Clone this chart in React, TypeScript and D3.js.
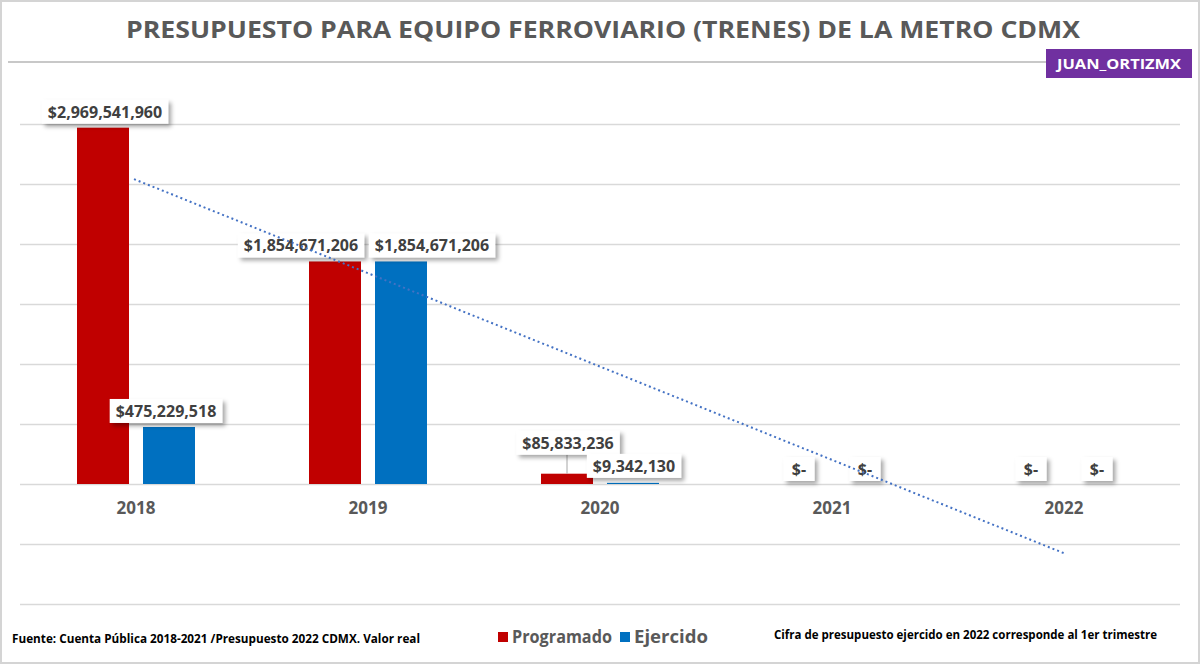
import React, { useEffect, useRef } from "react";
import * as d3 from "d3";

const years = ["2018", "2019", "2020", "2021", "2022"];
const programado = [2969541960, 1854671206, 85833236, 0, 0];
const ejercido = [475229518, 1854671206, 9342130, 0, 0];
const yTicks = [-1e9, -5e8, 0, 5e8, 1e9, 1.5e9, 2e9, 2.5e9, 3e9];
const seriesNames = ["Programado", "Ejercido"];
const seriesColors = ["#C00000", "#0070C0"];

const W = 1200;
const H = 664;

// label layout tweaks (style, not data)
const labelTweaks: Record<string, { dx: number; dy: number; leader?: boolean }> = {
  "0-0": { dx: 2, dy: -4 },
  "1-0": { dx: -3, dy: -4 },
  "0-1": { dx: -34, dy: -4 },
  "1-1": { dx: 31, dy: -4 },
  "0-2": { dx: 1, dy: -19, leader: true },
  "1-2": { dx: 1, dy: -5 },
};

function fmt(v: number) {
  if (v === 0) return "$-";
  return "$" + d3.format(",")(v);
}

export default function App() {
  const ref = useRef<SVGSVGElement>(null);
  useEffect(() => {
    const svg = d3.select(ref.current);
    svg.selectAll("*").remove();

    const defs = svg.append("defs");
    const f = defs.append("filter").attr("id", "sh").attr("x", "-20%").attr("y", "-30%").attr("width", "150%").attr("height", "180%");
    f.append("feDropShadow").attr("dx", 3).attr("dy", 3).attr("stdDeviation", 2).attr("flood-color", "#000").attr("flood-opacity", 0.35);

    svg.append("rect").attr("x", 0).attr("y", 0).attr("width", W).attr("height", H).attr("fill", "#fff");
    svg.append("rect").attr("x", 1).attr("y", 1).attr("width", W - 2).attr("height", H - 2).attr("fill", "none").attr("stroke", "#d4d4d4").attr("stroke-width", 2);

    // title
    svg.append("text").attr("x", 603).attr("y", 38).attr("text-anchor", "middle")
      .attr("font-family", "'Open Sans', sans-serif").attr("font-weight", 700).attr("font-size", 24)
      .attr("fill", "#595959").attr("textLength", 954).attr("lengthAdjust", "spacingAndGlyphs")
      .text("PRESUPUESTO PARA EQUIPO FERROVIARIO (TRENES) DE LA METRO CDMX");
    svg.append("line").attr("x1", 8).attr("x2", 1046).attr("y1", 62).attr("y2", 62).attr("stroke", "#c8c8c8").attr("stroke-width", 2);
    svg.append("rect").attr("x", 1046).attr("y", 49).attr("width", 146).attr("height", 29).attr("fill", "#7030A0");
    svg.append("text").attr("x", 1119).attr("y", 69).attr("text-anchor", "middle")
      .attr("font-family", "'Open Sans', sans-serif").attr("font-weight", 700).attr("font-size", 14)
      .attr("fill", "#fff").attr("textLength", 124).attr("lengthAdjust", "spacingAndGlyphs").text("JUAN_ORTIZMX");

    const x = d3.scaleBand<string>().domain(years).range([20, 1180]).paddingInner(0).paddingOuter(0);
    const y = d3.scaleLinear().domain([-1e9, 3e9]).range([604, 124]);
    const bw = 52;
    const off = [-33, 33];

    // gridlines
    svg.append("g").selectAll("line").data(yTicks).join("line")
      .attr("x1", 20).attr("x2", 1180)
      .attr("y1", (d) => Math.round(y(d)) + 0.5).attr("y2", (d) => Math.round(y(d)) + 0.5)
      .attr("stroke", "#d9d9d9").attr("stroke-width", 1.5);

    const all = [programado, ejercido];
    const center = (yr: string) => (x(yr) as number) + x.bandwidth() / 2;

    all.forEach((vals, si) => {
      svg.append("g").selectAll("rect").data(vals).join("rect")
        .attr("x", (d, i) => center(years[i]) + off[si] - bw / 2)
        .attr("width", bw)
        .attr("y", (d) => y(Math.max(0, d)))
        .attr("height", (d) => Math.abs(y(0) - y(d)))
        .attr("fill", seriesColors[si]);
    });

    // year labels
    svg.append("g").selectAll("text").data(years).join("text")
      .attr("x", (d) => center(d)).attr("y", 514).attr("text-anchor", "middle")
      .attr("font-family", "'Open Sans', sans-serif").attr("font-weight", 700).attr("font-size", 17)
      .attr("fill", "#595959").text((d) => d);

    // data labels
    const lg = svg.append("g");
    all.forEach((vals, si) => {
      vals.forEach((v, i) => {
        const tw = labelTweaks[`${si}-${i}`] || { dx: 0, dy: -3 };
        const bc = center(years[i]) + off[si];
        const top = y(Math.max(0, v));
        const cx = bc + tw.dx;
        const bottom = top + tw.dy;
        const bh = 24;
        if (tw.leader) {
          lg.append("line").attr("x1", bc).attr("x2", bc).attr("y1", bottom).attr("y2", top)
            .attr("stroke", "#a6a6a6").attr("stroke-width", 1);
        }
        const g = lg.append("g");
        const r = g.append("rect").attr("fill", "#fff").attr("filter", "url(#sh)");
        const t = g.append("text").attr("x", cx).attr("y", bottom - 6).attr("text-anchor", "middle")
          .attr("font-family", "'Open Sans', sans-serif").attr("font-weight", 700).attr("font-size", 16)
          .attr("fill", "#404040").text(fmt(v));
        const w = Math.max(31, (t.node() as SVGTextElement).getComputedTextLength() + 12);
        r.attr("x", cx - w / 2).attr("y", bottom - bh).attr("width", w).attr("height", bh);
      });
    });

    // linear trend of Programado
    const n = programado.length;
    const xs = d3.range(1, n + 1);
    const mx = d3.mean(xs) as number;
    const my = d3.mean(programado) as number;
    const slope = d3.sum(xs.map((xi, i) => (xi - mx) * (programado[i] - my))) / d3.sum(xs.map((xi) => (xi - mx) ** 2));
    const icpt = my - slope * mx;
    const trend = xs.map((xi, i) => [center(years[i]) - (i === 0 ? 2 : 0), y(icpt + slope * xi)] as [number, number]);
    svg.append("path").attr("d", d3.line()([trend[0], trend[n - 1]]) as string)
      .attr("fill", "none").attr("stroke", "#4472C4").attr("stroke-width", 2).attr("stroke-dasharray", "2,3");

    // legend
    const legX = [498, 620];
    const legTextW = [100, 74];
    seriesNames.forEach((s, i) => {
      svg.append("rect").attr("x", legX[i]).attr("y", 632).attr("width", 10).attr("height", 10).attr("fill", seriesColors[i]);
      svg.append("text").attr("x", legX[i] + 14).attr("y", 643)
        .attr("font-family", "'Open Sans', sans-serif").attr("font-weight", 700).attr("font-size", 17)
        .attr("fill", "#595959").attr("textLength", legTextW[i]).attr("lengthAdjust", "spacingAndGlyphs").text(s);
    });

    svg.append("text").attr("x", 12).attr("y", 643)
      .attr("font-family", "'Open Sans', sans-serif").attr("font-weight", 700).attr("font-size", 12)
      .attr("fill", "#000").attr("textLength", 408).attr("lengthAdjust", "spacingAndGlyphs")
      .text("Fuente: Cuenta Pública 2018-2021 /Presupuesto 2022 CDMX. Valor real");
    svg.append("text").attr("x", 774).attr("y", 639)
      .attr("font-family", "'Open Sans', sans-serif").attr("font-weight", 700).attr("font-size", 12)
      .attr("fill", "#000").attr("textLength", 383).attr("lengthAdjust", "spacingAndGlyphs")
      .text("Cifra de presupuesto ejercido en 2022 corresponde al 1er trimestre");
  }, []);

  return (
    <div style={{ position: "fixed", left: 0, top: 0, width: W, height: H, background: "#fff" }}>
      <svg ref={ref} width={W} height={H} style={{ display: "block" }} />
    </div>
  );
}
